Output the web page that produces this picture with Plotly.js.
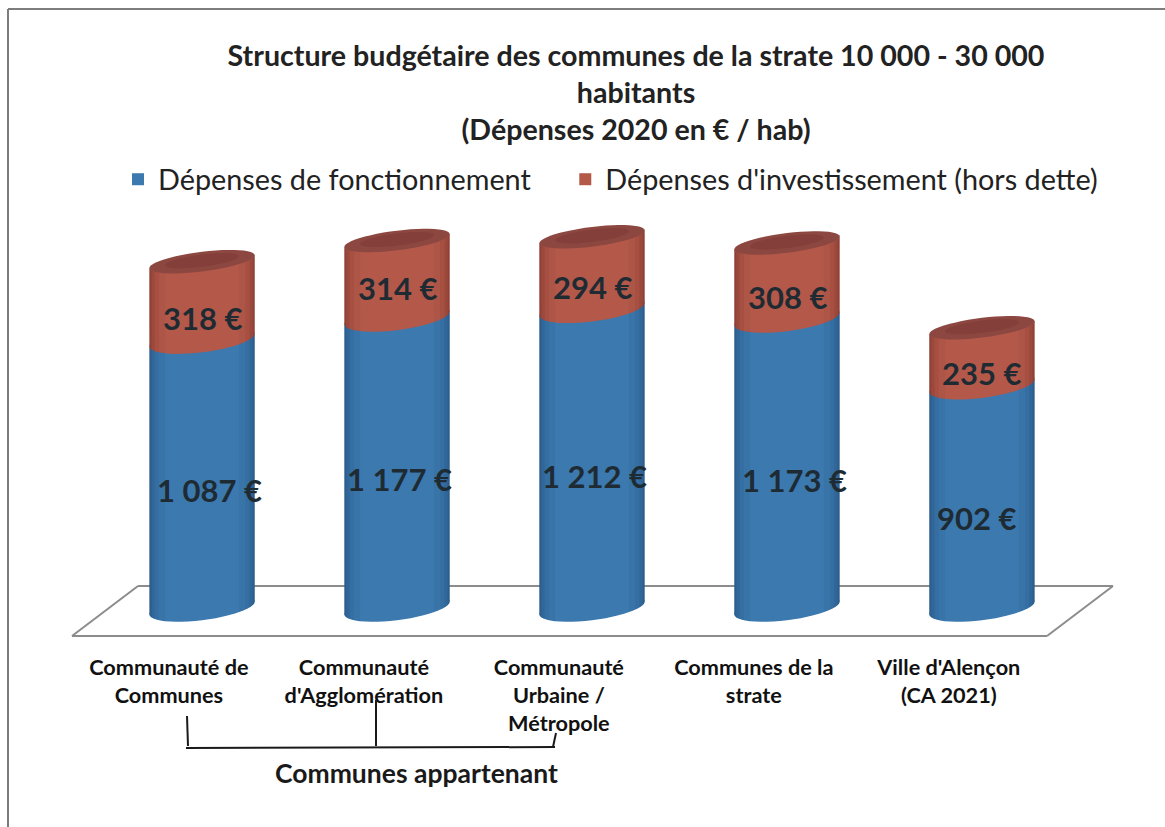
<!DOCTYPE html>
<html><head><meta charset="utf-8">
<script src="https://cdn.plot.ly/plotly-3.0.1.min.js"></script>
<style>html,body{margin:0;padding:0;background:#fff}</style></head>
<body><div id="chart" style="width:1165px;height:827px"></div>
<script>
const categories = ["Communauté de<br>Communes","Communauté<br>d'Agglomération","Communauté<br>Urbaine /<br>Métropole","Communes de la<br>strate","Ville d'Alençon<br>(CA 2021)"];
const fonctionnement = [1087,1177,1212,1173,902];
const investissement = [318,314,294,308,235];
const seriesNames = ["Dépenses de fonctionnement\u00a0\u00a0\u00a0\u00a0","Dépenses d'investissement (hors dette)"];
const labelShiftX = [0.04,0.015,0.015,0.04,-0.03];
const labelFracBlue = [0.44,0.445,0.44,0.443,0.405];
const labelFracRed = [0.28,0.385,0.306,0.289,0.217];
const tickShift = -0.17;

const FONT = 'Lato, "Open Sans", sans-serif';
const BLUE = '#3b79af', RED = '#b4594a', CAP = '#8c4740', CAPIN = '#843f3b', DARK = '#1f2b33';
const A = 0.27, TILT = 26, B = 50, CAPB = 40;
const idx = categories.map((_, i) => i);
const totals = fonctionnement.map((v, i) => v + investissement[i]);

const pxX = p => (p - 72) / 1040, pxY = p => (635 - p) / 430;
function ellipse(cx, cy, a = A, tilt = TILT, b = B) {
  let d = '';
  for (let k = 0; k < 48; k++) {
    const t = k / 48 * 2 * Math.PI;
    d += (k ? 'L' : 'M') + (cx + a * Math.cos(t)).toFixed(4) + ',' + (cy + tilt * Math.cos(t) + b * Math.sin(t)).toFixed(2);
  }
  return d + 'Z';
}
const lower = (cy, f, b = B) => cy + TILT * f - b * Math.sqrt(Math.max(0, 1 - f * f));
function strip(cx, y0, y1, f0, f1, topB = B) {
  let up = '', dn = '';
  for (let k = 0; k <= 6; k++) {
    const f = f0 + (f1 - f0) * k / 6;
    dn += (k ? 'L' : 'M') + (cx + A * f).toFixed(4) + ',' + lower(y0, f).toFixed(2);
  }
  for (let k = 6; k >= 0; k--) {
    const f = f0 + (f1 - f0) * k / 6;
    up += 'L' + (cx + A * f).toFixed(4) + ',' + lower(y1, f, topB).toFixed(2);
  }
  return dn + up + 'Z';
}
const body = (cx, y0, y1) => `M${cx - A},${y0 - TILT}L${cx - A},${y1 - TILT}L${cx + A},${y1 + TILT}L${cx + A},${y0 + TILT}Z`;
const pathShape = (path, fill, layer = 'above') => ({type:'path', xref:'x', yref:'y', path, fillcolor:fill, line:{width:0}, layer});
const lineShape = (x0, y0, x1, y1, color, width, layer = 'above') => ({type:'line', xref:'paper', yref:'paper', x0:pxX(x0), y0:pxY(y0), x1:pxX(x1), y1:pxY(y1), line:{color, width}, layer});
const square = (x0, x1, y0, y1, fill) => ({type:'rect', xref:'paper', yref:'paper', x0:pxX(x0), x1:pxX(x1), y0:pxY(y1), y1:pxY(y0), fillcolor:fill, line:{width:0}, layer:'below'});

const shapes = [];
shapes.push(lineShape(8,9,1165,9,'#7d7d7d',2,'below'));
shapes.push(lineShape(8,9,8,827,'#7d7d7d',2,'below'));
shapes.push(square(130,147,171,188,BLUE));
shapes.push(square(578,596,171,188,'#b0473f'));
[[72,636,138,586],[138,586,1113,586],[1113,586,1047,636],[1047,636,72,636]].forEach(s => shapes.push(lineShape(s[0],s[1],s[2],s[3],'#8c8c8c',2,'below')));
idx.forEach(i => {
  const m = fonctionnement[i], t = totals[i];
  shapes.push(pathShape(body(i, 0, m), BLUE, 'below'));
  shapes.push(pathShape(body(i, m, t), RED, 'below'));
  shapes.push(pathShape(ellipse(i, 0), BLUE));
  shapes.push(pathShape(ellipse(i, m), RED));
  const bands = [[-1,-0.96,0.30],[-0.96,-0.9,0.2],[-0.9,-0.82,0.11],[-0.82,-0.7,0.05],[0.7,0.82,0.05],[0.82,0.9,0.11],[0.9,0.96,0.2],[0.96,1,0.30]];
  bands.forEach(b => {
    shapes.push(pathShape(strip(i, 0, m, b[0], b[1]), `rgba(10,30,60,${b[2]})`));
    shapes.push(pathShape(strip(i, m, t, b[0], b[1], CAPB), `rgba(60,10,10,${b[2]})`));
  });
  shapes.push(pathShape(ellipse(i, t, A, TILT, CAPB), CAP));
  shapes.push(pathShape(ellipse(i, t + 4, A * 0.7, TILT * 0.7, CAPB * 0.62), CAPIN));
});
[[187,716,188,746],[186,748,555,747],[376,700,376,746],[553,747,556,733]].forEach(s => shapes.push(lineShape(s[0],s[1],s[2],s[3],'#1a1a1a',2)));

const annotations = [];
idx.forEach(i => {
  annotations.push({x:i + labelShiftX[i], y:fonctionnement[i] * labelFracBlue[i], text:fonctionnement[i].toString().replace(/(\d)(\d{3})$/, '$1 $2') + ' €', showarrow:false, font:{family:FONT, size:31, color:DARK, weight:700}});
  annotations.push({x:i + labelShiftX[i] * 0.1, y:fonctionnement[i] + investissement[i] * labelFracRed[i], text:investissement[i] + ' €', showarrow:false, font:{family:FONT, size:31, color:DARK, weight:700}});
});
annotations.push({xref:'paper', yref:'paper', x:pxX(416), y:pxY(773), xanchor:'center', yanchor:'middle', text:'Communes appartenant', showarrow:false, font:{family:FONT, size:26.5, color:'#1a1a1a', weight:700}});

const traces = [
  {type:'bar', name:seriesNames[0], x:idx, y:fonctionnement, width:0.42, marker:{color:BLUE}, hoverinfo:'none'},
  {type:'bar', name:seriesNames[1], x:idx, y:investissement, width:0.42, marker:{color:RED}, hoverinfo:'none'}
];
const layout = {
  width:1165, height:827, paper_bgcolor:'#fff', plot_bgcolor:'rgba(0,0,0,0)',
  margin:{l:72, r:53, t:205, b:192},
  barmode:'stack', shapes, annotations,
  title:{text:'<b>Structure budgétaire des communes de la strate 10 000 - 30 000<br>habitants<br>(Dépenses 2020 en € / hab)</b>', x:636/1165, xanchor:'center', y:1-66/827, yanchor:'top', font:{family:FONT, size:28.6, color:'#222'}},
  legend:{orientation:'h', x:pxX(118), xanchor:'left', y:pxY(154), yanchor:'top', font:{family:FONT, size:28.8, color:'#222'}, traceorder:'normal'},
  xaxis:{range:[-0.667,4.667], showgrid:false, zeroline:false, showline:false, ticks:'outside', ticklen:13, tickcolor:'rgba(0,0,0,0)', tickvals:idx.map(i => i + tickShift), ticktext:categories.map(c => '<b>' + c.replace(/<br>/g, '</b><br><b>') + '</b>'), tickangle:0, tickfont:{family:FONT, size:21.7, color:'#111'}},
  yaxis:{range:[-110,1635], visible:false, fixedrange:true}
};
Plotly.newPlot('chart', traces, layout, {displayModeBar:false, staticPlot:true});
</script></body></html>
